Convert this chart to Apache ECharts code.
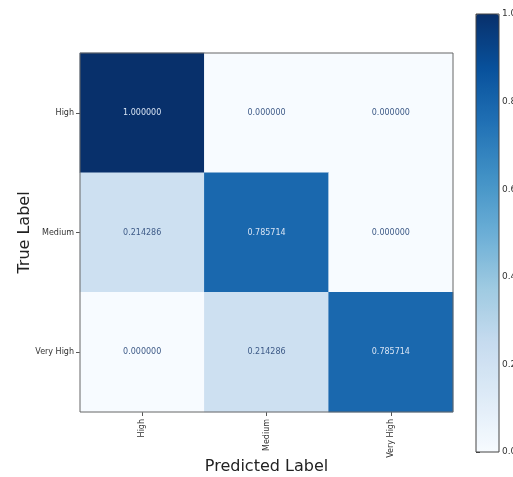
<!DOCTYPE html>
<html>
<head>
<meta charset="utf-8">
<script src="https://cdn.jsdelivr.net/npm/echarts@6/dist/echarts.min.js"></script>
<style>
  html, body { margin: 0; padding: 0; background: #fff; }
  #chart { width: 513px; height: 477px; }
</style>
</head>
<body>
<div id="chart"></div>
<script>
// 类别（预测 / 真实标签）
const predictedLabels = ['High', 'Medium', 'Very High']
const trueLabels = ['High', 'Medium', 'Very High']
// 混淆矩阵，每行对应一个真实标签
const rowHigh = [1.0, 0.0, 0.0]
const rowMedium = [0.214286, 0.785714, 0.0]
const rowVeryHigh = [0.0, 0.214286, 0.785714]
// 色条刻度
const colorbarTicks = [0, 0.2, 0.4, 0.6, 0.8, 1.0]

// Blues 色带
const blues = ['#f7fbff', '#deebf7', '#c6dbef', '#9ecae1', '#6baed6', '#4292c6', '#2171b5', '#08519c', '#08306b']

const rows = [rowHigh, rowMedium, rowVeryHigh]
const cells = []
rows.forEach((row, yi) => {
  row.forEach((v, xi) => {
    cells.push([xi, yi, v])
  })
})

const chart = echarts.init(document.getElementById('chart'))

const options = {
  backgroundColor: '#fff',
  animation: false,
  textStyle: { fontFamily: 'DejaVu Sans' },
  // 被截断的标题残留
  graphic: [
    {
      type: 'text',
      left: 59,
      top: -19,
      style: { text: 'g', fontSize: 20, fill: '#111', fontFamily: 'DejaVu Sans' }
    }
  ],
  grid: [
    // 热力图
    { left: 80, top: 53, width: 373, height: 359, outerBoundsMode: 'none', containLabel: false, show: true, borderColor: '#666', borderWidth: 1, backgroundColor: 'transparent', z: 5 },
    // 色条
    { left: 476, top: 14, width: 23, height: 438, outerBoundsMode: 'none', containLabel: false, show: true, borderColor: '#444', borderWidth: 1, backgroundColor: 'transparent', z: 5 }
  ],
  xAxis: [
    {
      gridIndex: 0,
      type: 'category',
      data: predictedLabels,
      name: 'Predicted Label',
      nameLocation: 'middle',
      nameGap: 47,
      nameMoveOverlap: false,
      nameTextStyle: { fontSize: 16, color: '#222' },
      axisLine: { show: false },
      axisTick: { show: true, alignWithLabel: true, length: 4, lineStyle: { color: '#555' } },
      axisLabel: { rotate: 90, fontSize: 8, color: '#333', margin: 7 },
      splitLine: { show: false }
    },
    {
      gridIndex: 1,
      type: 'value',
      show: false
    }
  ],
  yAxis: [
    {
      gridIndex: 0,
      type: 'category',
      data: trueLabels,
      inverse: true,
      name: 'True Label',
      nameLocation: 'middle',
      nameGap: 47,
      nameMoveOverlap: false,
      nameRotate: 90,
      nameTextStyle: { fontSize: 16, color: '#222' },
      axisLine: { show: false },
      axisTick: { show: true, alignWithLabel: true, length: 4, lineStyle: { color: '#555' } },
      axisLabel: { fontSize: 8, color: '#333', margin: 6 },
      splitLine: { show: false }
    },
    {
      gridIndex: 1,
      type: 'value',
      position: 'right',
      min: colorbarTicks[0],
      max: colorbarTicks[colorbarTicks.length - 1],
      interval: 0.2,
      axisLine: { show: false },
      axisTick: { show: true, length: 4, lineStyle: { color: '#444' } },
      axisLabel: { fontSize: 9, color: '#333', margin: 3, formatter: (v) => v.toFixed(1) },
      splitLine: { show: false }
    }
  ],
  visualMap: {
    type: 'continuous',
    min: 0,
    max: 1,
    seriesIndex: 0,
    calculable: false,
    orient: 'vertical',
    left: 476,
    top: 14,
    padding: 0,
    itemWidth: 23,
    itemHeight: 438,
    text: null,
    showLabel: false,
    inRange: { color: blues }
  },
  series: [
    {
      type: 'heatmap',
      xAxisIndex: 0,
      yAxisIndex: 0,
      // 深色格子用浅色文字
      data: cells.map((c) => ({
        value: c,
        label: { color: c[2] > 0.5 ? '#d8e4f4' : '#3d5a87' }
      })),
      label: {
        show: true,
        fontSize: 8,
        formatter: (p) => p.value[2].toFixed(6)
      },
      itemStyle: { borderWidth: 0 }
    }
  ]
}

chart.setOption(options)
</script>
</body>
</html>
